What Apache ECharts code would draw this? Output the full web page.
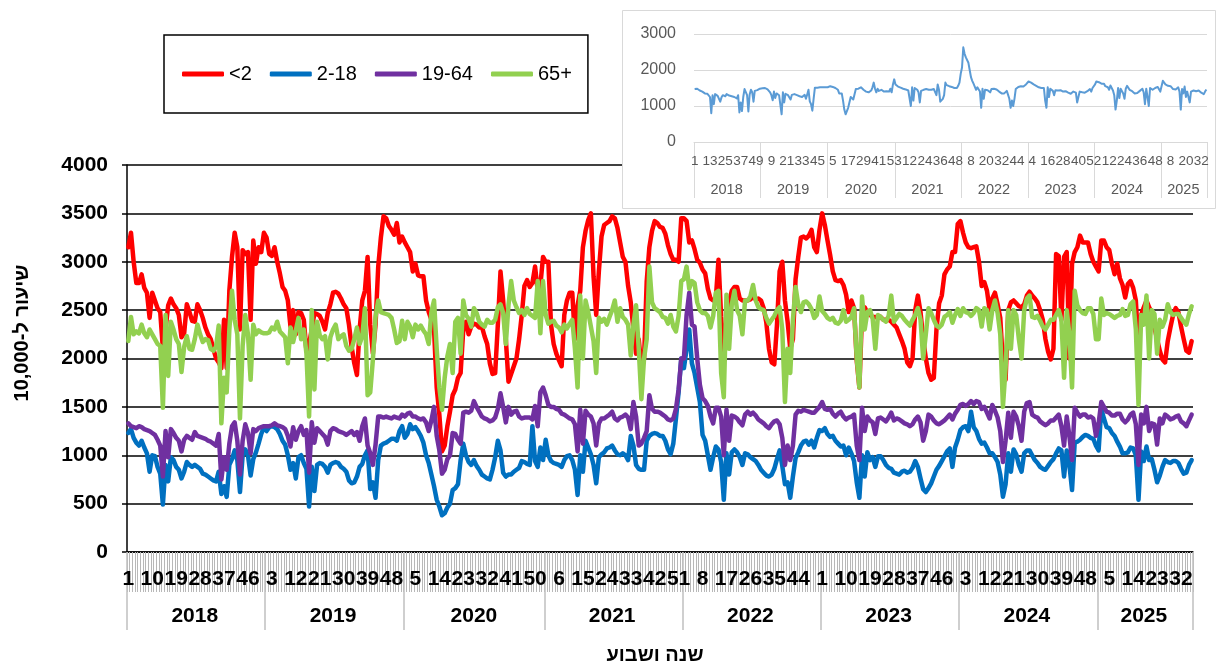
<!DOCTYPE html>
<html><head><meta charset="utf-8">
<script src="https://cdn.jsdelivr.net/npm/echarts@6/dist/echarts.min.js"></script>
<style>html,body{margin:0;padding:0;background:#fff;}#c{width:1230px;height:664px;}</style>
</head><body><div id="c"></div>
<script>
// ---------- categories ----------
const years = ['2018','2019','2020','2021','2022','2023','2024','2025'];
const weeksPerYear = [52,52,53,52,52,52,52,36];
const seriesNames = ['<2','2-18','19-64','65+'];
const seriesColors = ['#FF0000','#0070C0','#7030A0','#92D050'];
const yTitle = 'שיעור ל-10,000';
const xTitle = 'שנה ושבוע';

// ---------- series values (rate per 10,000), one value per week ----------
const under2 = [
3150,3300,3000,2780,2780,2870,2730,2680,2420,2680,2600,2520,2480,2100,2300,2550,2620,2560,2520,2450,2220,2260,2560,2480,2390,2380,2560,2500,2420,2320,2250,2200,2100,2000,1960,1900,2400,1900,2700,3050,3300,3150,2300,3120,3080,3100,2400,3220,2980,3150,3100,3300,
3250,3080,3060,3150,3000,2880,2740,2700,2600,2330,2500,2250,2480,2470,2400,2080,2150,2300,2470,2460,2440,2380,2300,2470,2560,2680,2690,2670,2620,2560,2520,2350,2120,1950,1830,2300,2600,2700,3050,2350,2050,2350,2950,3250,3470,3450,3370,3330,3280,3400,3200,3260,
3200,3150,3100,2900,2980,2860,2850,2850,2600,2480,2400,2300,1700,1420,1040,1100,1300,1450,1620,1680,1800,1850,2300,2380,2250,2330,2360,2350,2320,2330,2230,2150,1950,1840,1850,2350,2900,2600,2200,1760,1840,1920,2000,2200,2450,2750,2810,2740,2780,2950,2700,2760,3050,
3000,3000,2350,2150,2050,1980,1920,2450,2600,2680,2680,2200,2550,2700,3150,3320,3430,3500,2850,2450,2900,3260,3380,3400,3420,3470,3450,3350,3200,3050,3000,2750,2580,2300,2050,2200,1920,2000,2800,3150,3320,3420,3400,3360,3350,3290,3170,3080,3020,3020,3000,3450,
3450,3420,3200,3220,3130,3020,2990,2920,2880,2720,2620,2600,2620,3020,2430,2050,2400,2580,2700,2740,2740,2620,2600,2600,2600,2610,2640,2610,2620,2600,2520,2370,2100,1960,1940,2350,2900,3000,2600,2380,2100,2200,2820,3050,3250,3260,3240,3270,3330,3150,3100,3330,
3500,3380,3220,3070,2900,2810,2800,2810,2760,2660,2480,2600,2520,1980,1700,2460,2530,2470,2450,2430,2430,2420,2430,2400,2400,2400,2380,2350,2320,2250,2180,2100,1960,1920,2000,2500,2650,2480,2200,2000,1850,1780,1800,2300,2570,2650,2870,2920,2950,3100,3100,3390,
3420,3300,3200,3150,3140,3150,3160,3000,2750,2790,2700,2500,2620,2680,2560,2420,1950,1780,2500,2580,2600,2570,2540,2530,2560,2650,2690,2650,2620,2580,2500,2400,2200,2070,1990,2100,3080,3060,2400,3050,3100,2000,2980,3100,3150,3270,3200,3200,3200,3080,3000,2950,
2900,3220,3220,3150,3120,2980,2870,2980,2830,2760,2630,2770,2800,2730,2600,2100,2450,2530,2600,2530,2480,2320,2200,2080,1990,1960,2180,2320,2450,2520,2480,2330,2200,2080,2060,2180
];
const age2to18 = [
1230,1270,1180,1130,1100,1150,1080,1020,830,1000,990,880,810,490,900,730,980,950,880,850,760,830,930,900,880,900,880,860,810,800,780,760,740,730,830,600,680,570,900,960,1050,950,620,1000,1060,1000,790,960,1030,1120,1220,1290,
1250,1290,1300,1290,1270,1220,1150,1110,1000,850,920,760,980,1000,920,860,470,880,630,900,920,910,880,820,900,920,930,920,880,860,830,740,710,720,780,880,910,1000,1050,650,720,560,950,1100,1120,1130,1150,1170,1170,1150,1250,1300,
1180,1220,1320,1270,1290,1250,1200,1130,1000,920,800,680,540,470,380,400,460,500,640,660,700,950,1120,1000,930,900,950,890,850,800,780,760,750,850,980,1150,1050,820,780,800,800,830,850,870,940,930,910,900,1300,940,880,1080,950,
1160,1000,940,920,910,900,880,950,990,1000,950,850,590,1000,830,1150,1080,1010,900,710,980,1010,1030,1070,1080,1100,1050,1010,1000,1020,1000,950,1200,1100,900,860,850,850,1150,1200,1220,1230,1220,1200,1200,1150,1060,1010,1120,1380,1650,2000,
1900,2100,2300,1950,1850,1700,1550,1210,1150,1000,850,980,1090,1060,930,540,1020,800,1030,1060,1030,980,900,1020,1010,980,960,940,900,850,820,790,780,800,860,960,1050,890,700,720,560,780,970,1030,1100,1140,1150,1110,1150,1080,1180,1260,
1250,1280,1220,1190,1200,1150,1120,1090,1100,1000,1080,1020,940,720,560,1000,780,1030,950,980,880,990,990,950,900,870,860,820,810,800,830,840,820,830,870,940,880,760,650,620,660,710,780,850,890,940,990,1040,1070,880,1080,1160,
1260,1290,1300,1250,1450,1290,1250,1170,1120,1130,1080,1020,1020,980,930,800,570,700,1020,830,1060,1010,900,830,1020,1050,1050,1000,950,920,880,860,850,890,930,960,1020,1070,1050,780,1050,900,640,1130,1140,1160,1190,1210,1200,1180,1170,1100,
1050,1480,1380,1290,1280,1230,1200,1140,1090,1020,1020,1030,1080,1070,1000,540,1040,940,1090,950,960,850,720,790,880,950,930,920,940,940,920,860,810,820,900,950
];
const age19to64 = [
1330,1300,1290,1280,1300,1290,1270,1260,1250,1230,1210,1160,1100,780,1250,980,1270,1230,1180,1150,1040,1160,1200,1180,1160,1240,1200,1190,1180,1170,1150,1140,1120,1100,1220,750,980,850,1120,1300,1340,1150,800,1150,1320,1230,1020,1270,1250,1280,1290,1300,
1300,1300,1310,1330,1310,1300,1290,1270,1200,1090,1290,1160,1250,1300,1210,1260,820,1340,1130,1280,1250,1220,1190,1110,1250,1280,1270,1250,1240,1230,1210,1230,1250,1210,1240,1150,1300,1380,1100,1020,900,1110,1400,1400,1390,1400,1390,1380,1400,1390,1380,1420,
1400,1430,1440,1400,1400,1380,1370,1380,1340,1250,1360,1500,1200,1050,810,850,960,1000,1230,1220,1160,1120,1440,1450,1440,1460,1560,1500,1450,1400,1380,1370,1350,1360,1390,1480,1640,1500,1340,1500,1420,1450,1460,1400,1380,1390,1390,1390,1370,1510,1300,1650,1700,
1620,1520,1500,1500,1480,1470,1430,1420,1400,1380,1370,1320,1040,1470,1120,1460,1420,1400,1330,1100,1330,1380,1380,1400,1420,1450,1380,1360,1390,1400,1420,1390,1270,1550,1400,1100,1120,1180,1250,1620,1480,1450,1450,1440,1420,1400,1370,1360,1380,1480,1680,2000,
2000,2450,2680,2350,2330,2000,1730,1590,1560,1510,1400,1330,1490,1490,1400,1000,1470,1150,1410,1400,1380,1340,1310,1420,1450,1420,1440,1410,1370,1350,1330,1300,1280,1320,1350,1360,1320,1180,900,1100,950,1100,1420,1460,1450,1470,1460,1450,1440,1440,1470,1500,
1550,1480,1470,1480,1430,1400,1430,1450,1400,1370,1390,1400,1420,1100,950,1490,1250,1400,1360,1340,1220,1380,1390,1370,1350,1390,1440,1360,1380,1370,1350,1330,1320,1300,1320,1370,1400,1340,1150,1250,1420,1400,1360,1330,1320,1340,1360,1390,1420,1370,1430,1470,
1520,1530,1510,1530,1560,1530,1560,1550,1480,1500,1440,1380,1520,1460,1390,1250,930,1150,1440,1180,1450,1400,1300,1150,1450,1540,1550,1420,1400,1390,1350,1330,1310,1330,1360,1360,1390,1420,1300,1100,1400,1200,950,1490,1440,1400,1420,1420,1390,1400,1380,1200,
1330,1550,1500,1450,1440,1410,1410,1430,1430,1370,1340,1370,1420,1440,1320,900,1420,1330,1500,1250,1330,1320,1110,1380,1330,1420,1400,1370,1380,1400,1410,1350,1330,1300,1360,1420
];
const age65plus = [
2180,2430,2250,2280,2260,2350,2260,2220,2300,2250,2200,2150,2130,1490,2450,1820,2380,2300,2200,2150,1860,2120,2230,2100,2090,2200,2350,2250,2170,2200,2190,2100,2080,2120,2340,1330,1800,1650,2300,2700,2400,2250,1380,2130,2450,2250,1780,2350,2250,2290,2270,2260,
2260,2270,2320,2300,2380,2280,2250,2220,1950,2320,2170,2290,2420,2200,2300,2050,1400,2500,1680,2380,2240,2200,2230,1990,2220,2300,2350,2200,2230,2250,2130,2080,2100,2200,2320,2150,2230,2520,1620,1650,1990,2430,2600,2480,2470,2460,2450,2420,2300,2160,2180,2390,
2200,2380,2330,2220,2350,2300,2340,2290,2250,2150,2480,2600,2100,1700,1470,1800,2020,2150,1850,2380,2420,2050,2600,2450,2410,2330,2520,2470,2380,2350,2330,2400,2370,2370,2400,2530,2560,2470,2150,2550,2800,2600,2530,2470,2500,2450,2520,2460,2440,2420,2800,2260,2800,
2450,2360,2380,2390,2340,2320,2270,2350,2310,2360,2400,2100,1700,2650,2000,2600,2480,2330,2180,1850,2420,2380,2410,2350,2430,2500,2600,2380,2520,2430,2400,2350,2030,2350,2550,2100,1580,2000,2200,2950,2580,2520,2500,2480,2430,2420,2360,2450,2330,2280,2440,2800,
2820,2950,2720,2800,2780,2580,2500,2470,2470,2440,2320,2440,2680,2700,1850,1600,2660,2100,2560,2700,2500,2440,2250,2600,2600,2640,2760,2600,2530,2510,2500,2420,2360,2400,2440,2500,2530,2300,1550,2100,1850,2400,2740,2560,2480,2580,2590,2560,2510,2420,2450,2640,
2490,2460,2420,2400,2420,2370,2360,2390,2500,2380,2400,2430,2520,2000,1700,2640,2300,2480,2500,2410,2100,2450,2430,2400,2380,2440,2650,2380,2420,2460,2440,2400,2370,2340,2400,2450,2520,2400,2000,2250,2520,2470,2400,2340,2320,2350,2430,2450,2480,2370,2450,2510,
2440,2520,2480,2470,2440,2470,2520,2500,2330,2520,2500,2300,2500,2600,2470,2250,1500,1900,2500,2100,2500,2450,2200,2000,2500,2620,2650,2430,2420,2440,2390,2330,2300,2350,2400,2400,2450,2500,2400,1800,2500,2250,1700,2700,2550,2500,2470,2460,2520,2520,2460,2200,
2200,2620,2450,2470,2460,2440,2420,2440,2450,2510,2440,2450,2560,2590,2300,1520,2450,2350,2650,2000,2500,2460,2050,2400,2330,2400,2560,2480,2450,2460,2460,2420,2380,2350,2460,2540
];
// inset: all ages
const allAges = [
1470,1510,1480,1450,1430,1420,1400,1380,1350,1360,1340,1300,1250,800,1300,1050,1330,1300,1280,1250,1120,1240,1300,1290,1270,1330,1300,1290,1280,1270,1260,1250,1230,1210,1300,820,1100,860,1250,1470,1480,1300,850,1320,1450,1380,1120,1420,1400,1440,1460,1480,
1480,1490,1510,1500,1480,1460,1420,1380,1300,1160,1400,1220,1350,1390,1300,1310,770,1380,1100,1340,1320,1300,1280,1180,1310,1330,1330,1320,1300,1290,1270,1260,1250,1270,1310,1200,1320,1450,1130,1050,870,1200,1510,1510,1510,1520,1520,1510,1520,1510,1520,1530,
1520,1540,1550,1530,1530,1510,1500,1490,1450,1350,1320,1350,1150,900,770,800,950,1000,1250,1200,1180,1150,1470,1490,1480,1480,1520,1480,1450,1420,1400,1390,1380,1400,1430,1520,1650,1480,1380,1480,1420,1440,1450,1420,1400,1410,1410,1410,1400,1480,1380,1600,1740,
1600,1560,1540,1530,1510,1500,1480,1470,1460,1450,1430,1380,1000,1520,1150,1500,1470,1450,1380,1100,1420,1440,1450,1460,1470,1500,1450,1420,1450,1460,1470,1440,1300,1600,1450,1120,1130,1200,1300,1650,1580,1560,1550,1540,1530,1520,1500,1480,1500,1560,1650,1900,
2070,2630,2450,2350,2350,2200,2000,1800,1700,1620,1580,1450,1520,1500,1400,950,1480,1200,1450,1460,1440,1420,1380,1470,1490,1480,1480,1460,1430,1400,1380,1350,1320,1350,1380,1420,1380,1200,950,1150,1000,1200,1470,1520,1530,1540,1550,1540,1540,1560,1600,1650,
1680,1700,1650,1620,1600,1560,1560,1560,1520,1480,1500,1500,1500,1150,950,1520,1250,1480,1450,1420,1300,1440,1450,1430,1420,1440,1450,1400,1420,1410,1390,1370,1350,1340,1350,1400,1430,1370,1100,1250,1400,1400,1380,1370,1370,1390,1410,1430,1470,1400,1500,1540,
1600,1680,1700,1660,1650,1620,1640,1620,1550,1570,1520,1450,1570,1500,1430,1300,900,1150,1500,1220,1480,1450,1350,1200,1480,1560,1560,1450,1420,1410,1370,1350,1340,1360,1400,1420,1450,1480,1380,1050,1480,1250,1000,1500,1470,1450,1480,1500,1510,1530,1520,1400,
1400,1700,1650,1600,1580,1560,1550,1550,1530,1470,1450,1460,1500,1520,1400,900,1470,1350,1540,1250,1400,1380,1100,1400,1380,1430,1460,1410,1420,1430,1430,1370,1350,1330,1400,1460
];

// ---------- build category axes from years/weeks ----------
const weekLabels = [], yearOfWeek = [], yearStartIdx = new Set(), yearMidIdx = new Set();
let idx = 0;
years.forEach((y, k) => {
  const n = weeksPerYear[k];
  yearStartIdx.add(idx);
  yearMidIdx.add(idx + Math.floor((n - 1) / 2));
  for (let w = 1; w <= n; w++) { weekLabels.push(String(w)); yearOfWeek.push(y); }
  idx += n;
});

const FONT = '"Liberation Sans", Arial, sans-serif';
const plain = (v) => String(v);
const chart = echarts.init(document.getElementById('c'), null, {renderer: 'canvas'});
const mainSeries = [under2, age2to18, age19to64, age65plus].map((d, k) => ({
  name: seriesNames[k], type: 'line', data: d, xAxisIndex: 0, yAxisIndex: 0,
  symbol: 'none', showSymbol: false, smooth: false, z: 2 + k,
  lineStyle: {color: seriesColors[k], width: 4.5, join: 'round', cap: 'round'},
  itemStyle: {color: seriesColors[k]}
}));

chart.setOption({
  animation: false,
  backgroundColor: '#fff',
  textStyle: {fontFamily: FONT},
  grid: [
    {left: 127, right: 37, top: 165, bottom: 112, outerBoundsMode: 'none', containLabel: false},
    {left: 694, right: 23, top: 34, bottom: 522, outerBoundsMode: 'none', containLabel: false, z: 12}
  ],
  legend: {
    data: seriesNames, left: 164, top: 35, orient: 'horizontal',
    padding: [29, 16, 29, 18], itemGap: 18, itemWidth: 42, itemHeight: 5,
    icon: 'roundRect', borderColor: '#000', borderWidth: 1.5, borderRadius: 0,
    backgroundColor: '#fff',
    textStyle: {fontSize: 20, color: '#000', fontFamily: FONT}
  },
  xAxis: [
    {gridIndex: 0, type: 'category', data: weekLabels, position: 'bottom', boundaryGap: true,
     axisLine: {show: true, onZero: false, lineStyle: {color: '#000', width: 1.5}},
     axisTick: {show: true, interval: 0, length: 40, lineStyle: {color: '#b8b8b8', width: 1}},
     axisLabel: {interval: 8, margin: 17, fontSize: 21, fontWeight: 'bold', color: '#000', hideOverlap: false, fontFamily: FONT},
     splitLine: {show: false}},
    {gridIndex: 0, type: 'category', data: yearOfWeek, position: 'bottom', boundaryGap: true,
     axisLine: {show: false, onZero: false},
     axisTick: {show: true, interval: (i) => yearStartIdx.has(i), length: 78, lineStyle: {color: '#c0c0c0', width: 1.5}},
     axisLabel: {interval: (i) => yearMidIdx.has(i), margin: 54, fontSize: 21, fontWeight: 'bold', color: '#000', hideOverlap: false, fontFamily: FONT},
     splitLine: {show: false}},
    {gridIndex: 1, type: 'category', data: weekLabels, position: 'bottom', boundaryGap: true, z: 12,
     axisLine: {show: true, onZero: false, lineStyle: {color: '#d9d9d9', width: 1}},
     axisTick: {show: false},
     axisLabel: {interval: 11, margin: 12, fontSize: 13.5, color: '#595959', hideOverlap: false, fontFamily: FONT},
     splitLine: {show: false}},
    {gridIndex: 1, type: 'category', data: yearOfWeek, position: 'bottom', boundaryGap: true, z: 12,
     axisLine: {show: false, onZero: false},
     axisTick: {show: true, interval: (i) => yearStartIdx.has(i), length: 56, lineStyle: {color: '#d9d9d9', width: 1}},
     axisLabel: {interval: (i) => yearMidIdx.has(i), margin: 40, fontSize: 14.5, color: '#595959', hideOverlap: false, fontFamily: FONT},
     splitLine: {show: false}}
  ],
  yAxis: [
    {gridIndex: 0, type: 'value', min: 0, max: 4000, interval: 500,
     axisLine: {show: true, lineStyle: {color: '#000', width: 1.5}},
     axisTick: {show: true, length: 5, lineStyle: {color: '#000', width: 1.5}},
     axisLabel: {margin: 19, fontSize: 21, fontWeight: 'bold', color: '#000', fontFamily: FONT, formatter: plain},
     splitLine: {show: true, lineStyle: {color: '#000', width: 1.5}}},
    {gridIndex: 1, type: 'value', min: 0, max: 3000, interval: 1000, z: 12,
     axisLine: {show: false}, axisTick: {show: false},
     axisLabel: {margin: 18, fontSize: 16, color: '#595959', fontFamily: FONT, formatter: plain},
     splitLine: {show: true, lineStyle: {color: '#d9d9d9', width: 1}}}
  ],
  graphic: [
    {type: 'rect', z: 11, shape: {x: 622.5, y: 10.5, width: 593, height: 198},
     style: {fill: '#fff', stroke: '#d9d9d9', lineWidth: 1}},
    {type: 'text', x: 22, y: 333, rotation: Math.PI / 2, z: 5,
     style: {text: yTitle, font: 'bold 20px ' + FONT, fill: '#000', textAlign: 'center', textVerticalAlign: 'middle', align: 'center', verticalAlign: 'middle'}},
    {type: 'text', x: 655, y: 655, z: 5,
     style: {text: xTitle, font: 'bold 20px ' + FONT, fill: '#000', textAlign: 'center', textVerticalAlign: 'middle', align: 'center', verticalAlign: 'middle'}}
  ],
  series: mainSeries.concat([
    {name: 'all', type: 'line', data: allAges, xAxisIndex: 2, yAxisIndex: 1, z: 13,
     symbol: 'none', showSymbol: false, lineStyle: {color: '#5B9BD5', width: 2, join: 'round'},
     itemStyle: {color: '#5B9BD5'}}
  ])
});
</script></body></html>
